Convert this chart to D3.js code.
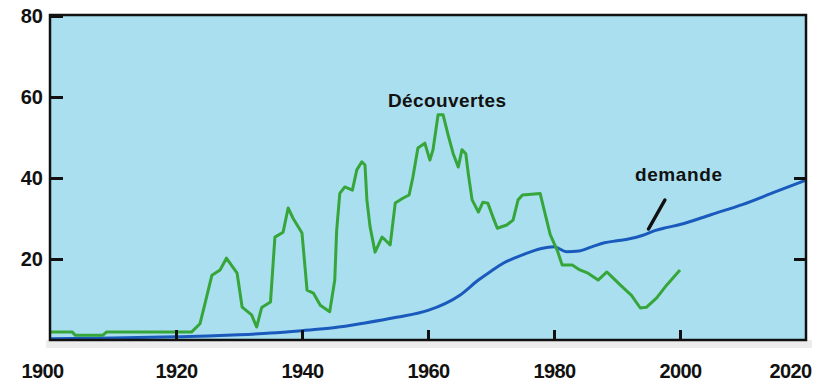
<!DOCTYPE html>
<html>
  <head>
    <meta charset="utf-8">
    <title>Découvertes et demande</title>
    <script src="https://d3js.org/d3.v7.min.js"></script>
    <style>
      body { margin: 0; background: #fff; }
      text { font-family: "Liberation Sans", Arial, sans-serif; font-weight: bold; fill: #111; }
    </style>
  </head>
  <body>
    <script>
      // Découvertes (green)
      let decYears = [1900, 1903.5, 1904, 1908.4, 1909, 1922.5, 1923.8, 1924.6, 1925.7, 1927, 1928, 1929.7, 1930.5, 1932,
        1932.8, 1933.6, 1935, 1935.7, 1937, 1937.8, 1938.6, 1940, 1940.8, 1941.8, 1942.9, 1944.4, 1945.2, 1945.5,
        1946, 1946.8, 1948, 1948.7, 1949.5, 1950, 1950.3, 1950.8, 1951.6, 1952.7, 1953.2, 1954, 1954.8, 1956, 1957,
        1957.6, 1958.4, 1959.5, 1960.3, 1960.8, 1961.6, 1962.4, 1963.2, 1964, 1964.8, 1965.4, 1966, 1966.4, 1967,
        1968, 1968.7, 1969.5, 1970.3, 1971, 1972.5, 1973.5, 1974.3, 1975, 1977.8, 1978.3, 1979.4, 1980.5, 1981.3,
        1982.9, 1984.1, 1985.4, 1987, 1988.4, 1989.2, 1990.5, 1992.3, 1993.7, 1994.7, 1996.3, 1997.9, 2000]
      let decValues = [2, 2, 1.2, 1.2, 2, 2, 4, 9, 16, 17.3, 20.2, 16.5, 8.1, 6.2,
        3.2, 8, 9.4, 25.4, 26.6, 32.6, 30, 26.4, 12.3, 11.6, 8.6, 7, 14.8, 27,
        36.2, 37.8, 37, 42, 44, 43.2, 34.6, 28, 21.7, 25.4, 24.7, 23.5, 33.8, 35, 35.8,
        40.2, 47.4, 48.6, 44.4, 47, 55.6, 55.6, 50.6, 46, 42.7, 47, 46, 41, 34.6,
        31.6, 34, 33.8, 30.4, 27.6, 28.4, 29.6, 34.6, 35.8, 36.2, 33, 26, 22.2, 18.5,
        18.5, 17.3, 16.5, 14.8, 16.8, 15.6, 13.6, 11, 7.9, 8.1, 10.4, 13.6, 17.3]

      // demande (blue)
      let demYears = [1900, 1910, 1920, 1925, 1930, 1935, 1940, 1945, 1950, 1955, 1960, 1965, 1968, 1970, 1972, 1975,
        1978, 1980, 1982, 1984, 1986, 1988, 1990, 1992, 1994, 1996, 1998, 2000, 2005, 2010, 2015, 2020]
      let demValues = [0.3, 0.5, 0.8, 1.0, 1.3, 1.7, 2.3, 3.0, 4.2, 5.6, 7.3, 11, 14.8, 17, 19, 21,
        22.6, 23, 21.8, 22, 23, 24, 24.5, 25, 25.8, 27, 27.8, 28.5, 31, 33.5, 36.5, 39.5]

      let xTicks = [1900, 1920, 1940, 1960, 1980, 2000, 2020]
      let yTicks = [20, 40, 60, 80]

      let width = 824, height = 384
      let pLeft = 50, pRight = 806, pTop = 16, pBottom = 340

      let svg = d3.select('body').append('svg')
                  .attr('width', width)
                  .attr('height', height)

      let xScale = d3.scaleLinear().domain([1900, 2020]).range([pLeft, pRight])
      let yScale = d3.scaleLinear().domain([0, 80]).range([pBottom, pTop])

      // shadow under the plot
      svg.append('rect').attr('x', pLeft - 4).attr('y', pBottom).attr('width', pRight - pLeft + 10).attr('height', 8)
         .style('fill', '#ececec')

      svg.append('rect').attr('x', pLeft).attr('y', pTop - 1).attr('width', pRight - pLeft).attr('height', pBottom - pTop + 1)
         .style('fill', '#aadfef')

      let line = d3.line()
                   .x((d) => xScale(d[0]))
                   .y((d) => yScale(d[1]))

      svg.append('path')
         .attr('d', line.curve(d3.curveMonotoneX)(demYears.map((y, i) => [y, demValues[i]])))
         .style('fill', 'none').style('stroke', '#1a5abc').style('stroke-width', 3)

      svg.append('path')
         .attr('d', line.curve(d3.curveLinear)(decYears.map((y, i) => [y, decValues[i]])))
         .style('fill', 'none').style('stroke', '#36a63a').style('stroke-width', 3)
         .style('stroke-linejoin', 'round')

      // frame
      svg.append('rect').attr('x', pLeft).attr('y', pTop - 1).attr('width', pRight - pLeft).attr('height', pBottom - pTop + 1)
         .style('fill', 'none').style('stroke', '#111').style('stroke-width', 2.5)

      let yAxis = d3.axisLeft(yScale).tickValues(yTicks).tickSize(-13).tickPadding(7)
      let gy = svg.append('g').attr('transform', `translate(${pLeft}, 0)`).call(yAxis)
      gy.select('.domain').remove()
      gy.selectAll('line').style('stroke', '#111').style('stroke-width', 3)
      gy.selectAll('text').style('font-size', '20px').attr('font-family', null)

      let yAxisR = d3.axisRight(yScale).tickValues([20, 40]).tickSize(-12).tickFormat('')
      let gr = svg.append('g').attr('transform', `translate(${pRight}, 0)`).call(yAxisR)
      gr.select('.domain').remove()
      gr.selectAll('line').style('stroke', '#111').style('stroke-width', 3)

      let xAxis = d3.axisBottom(xScale).tickValues(xTicks).tickSize(-10).tickPadding(24).tickFormat((d) => d)
      let gx = svg.append('g').attr('transform', `translate(0, ${pBottom})`).call(xAxis)
      gx.select('.domain').remove()
      gx.selectAll('line').style('stroke', '#111').style('stroke-width', 3)
         .style('display', (d) => (d === 1900 || d === 2020) ? 'none' : null)
      gx.selectAll('text').style('font-size', '20px').style('letter-spacing', '-0.6px')
         .attr('dx', (d) => d === 1900 ? -8 : d === 2020 ? -16 : 0)
      svg.selectAll('g.tick text').style('fill', '#111')

      // labels
      svg.append('text').attr('x', 388).attr('y', 107).text('Découvertes')
         .style('font-size', '19px').style('letter-spacing', '0.4px')
      svg.append('text').attr('x', 635).attr('y', 181).text('demande')
         .style('font-size', '19px').style('letter-spacing', '0.6px')

      svg.append('line').attr('x1', xScale(1997.6)).attr('y1', 200).attr('x2', xScale(1995)).attr('y2', 229)
         .style('stroke', '#111').style('stroke-width', 3.5).style('stroke-linecap', 'round')
    </script>
  </body>
</html>
